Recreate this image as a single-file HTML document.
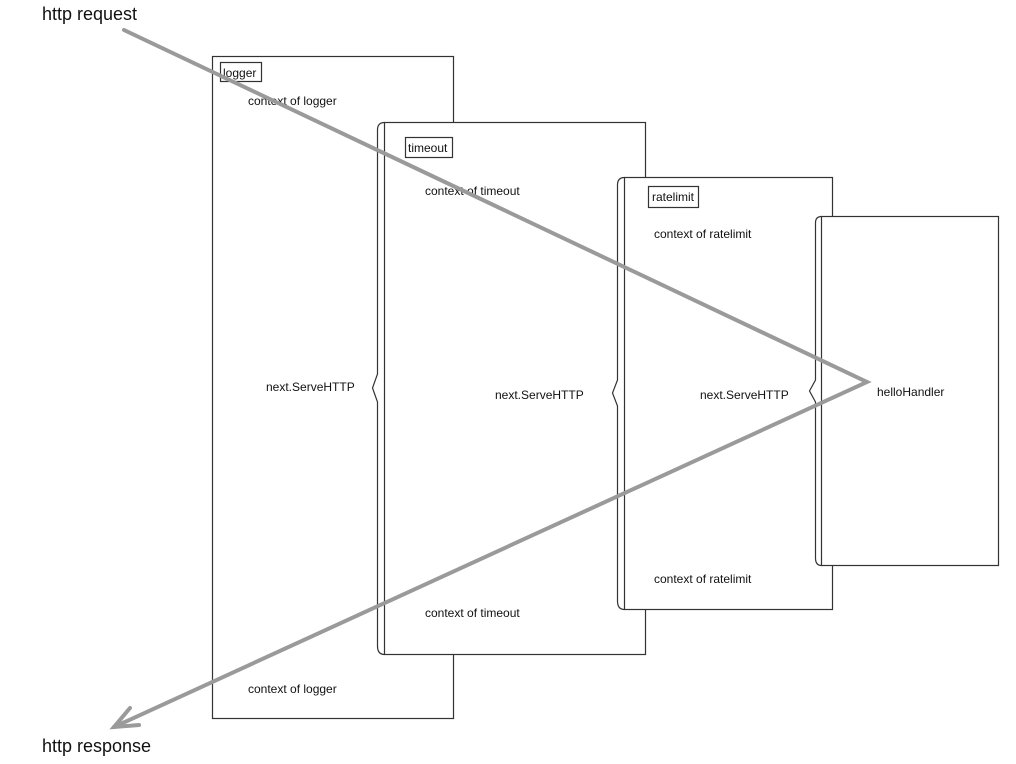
<!DOCTYPE html>
<html><head><meta charset="utf-8"><style>
html,body{margin:0;padding:0;background:#fff;}
svg{display:block;}
text{font-family:"Liberation Sans",Arial,sans-serif;fill:#111;}
</style></head><body>
<svg width="1016" height="764" viewBox="0 0 1016 764" xmlns="http://www.w3.org/2000/svg">
<g fill="#fff" stroke="#333" stroke-width="1.2">
<rect x="212.5" y="56.5" width="241" height="662"/>
<rect x="384.5" y="122.5" width="261" height="532"/>
<rect x="624.5" y="177.5" width="208" height="432"/>
<rect x="821.5" y="216.5" width="177" height="349"/>
</g>
<g fill="none" stroke="#333" stroke-width="1.2">
<path d="M384.5,122.5 Q377.5,122.5 377.5,130 L377.5,374 L372.5,388 L377.5,402 L377.5,646 Q377.5,654.5 384.5,654.5"/>
<path d="M624.5,177.5 Q617.5,177.5 617.5,185 L617.5,380 L612.5,393 L617.5,406 L617.5,601 Q617.5,609.5 624.5,609.5"/>
<path d="M821.5,216.5 Q815.5,216.5 815.5,223 L815.5,380 L809.5,391 L815.5,402 L815.5,558 Q815.5,565.5 821.5,565.5"/>
<rect x="220.5" y="62.5" width="41" height="19"/>
<rect x="405.5" y="137.5" width="47" height="20"/>
<rect x="648.5" y="186.5" width="50" height="21"/>
</g>
<g font-size="12">
<text x="223" y="77">logger</text>
<text x="408" y="152">timeout</text>
<text x="652" y="201">ratelimit</text>
<text x="248" y="105">context of logger</text>
<text x="425" y="195">context of timeout</text>
<text x="654" y="238">context of ratelimit</text>
<text x="266" y="391">next.ServeHTTP</text>
<text x="495" y="399">next.ServeHTTP</text>
<text x="700" y="399">next.ServeHTTP</text>
<text x="877" y="396">helloHandler</text>
<text x="654" y="583">context of ratelimit</text>
<text x="425" y="617">context of timeout</text>
<text x="248" y="693">context of logger</text>
</g>
<text x="42" y="20" font-size="18">http request</text>
<text x="42" y="752" font-size="18">http response</text>
<g fill="none" stroke="#9a9a9a" stroke-width="4" stroke-linecap="round" stroke-linejoin="miter">
<polyline points="124,30 867,382 114,727"/>
<polyline points="130,708 114,727 139,725"/>
</g>
</svg>
</body></html>
